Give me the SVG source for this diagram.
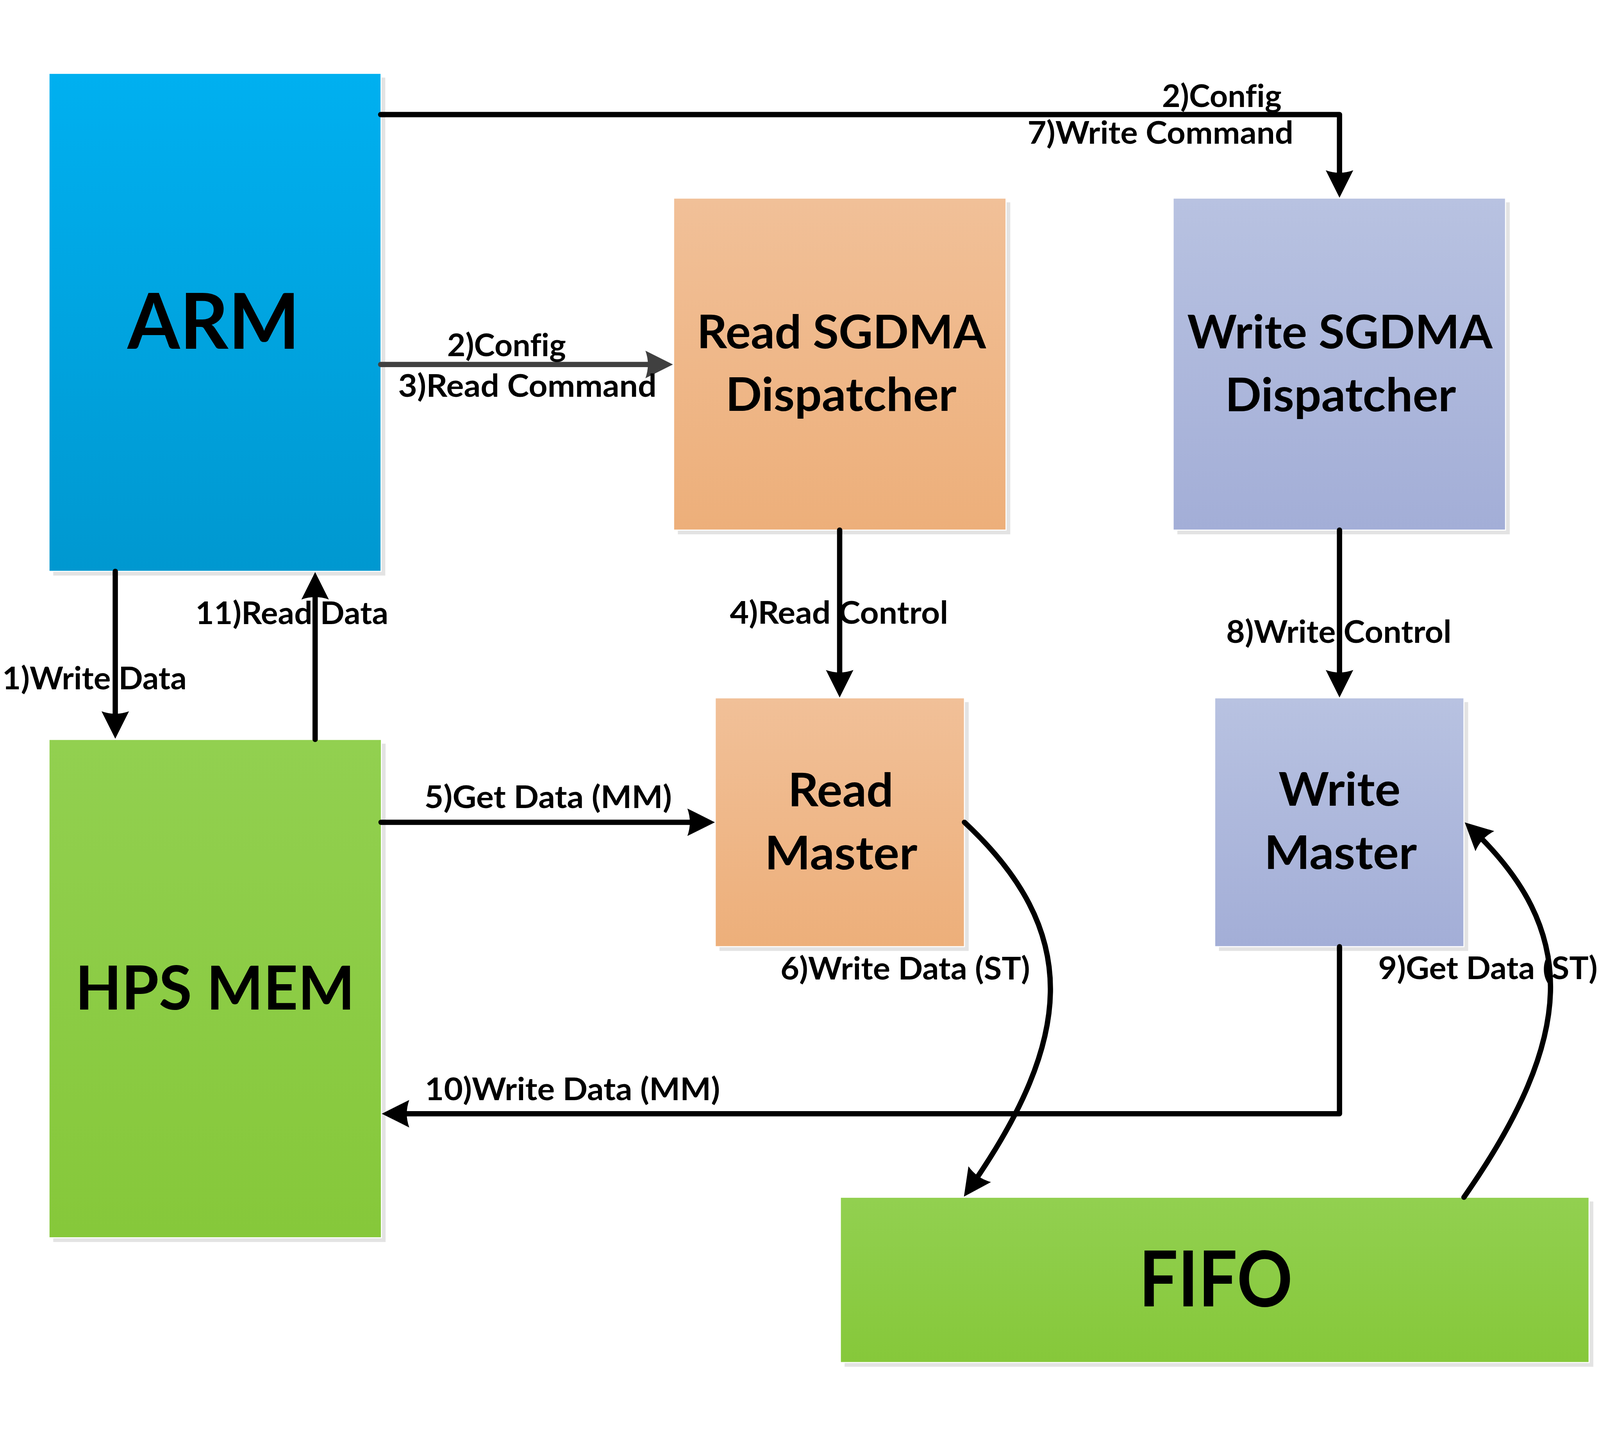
<svg xmlns="http://www.w3.org/2000/svg" width="4539" height="3682" viewBox="0 0 4539 3682">
<style>
svg{width:100vw;height:100vh;display:block}
.shadow{fill:#e3e3e3}
.box{stroke:#ffffff;stroke-width:3}
text{font-variant-ligatures:none}
.title{font-family:Lato,"Liberation Sans",sans-serif;font-weight:bold;fill:#000;text-anchor:middle}
.lbl{font-family:Lato,"Liberation Sans",sans-serif;font-weight:bold;font-size:88px;fill:#000;text-anchor:middle}
.conn{fill:none;stroke:#000;stroke-width:15;stroke-linecap:round;stroke-linejoin:round}
.gray{stroke:#404040}
</style>
<defs>
<linearGradient id="gBlue" x1="0" y1="0" x2="0" y2="1"><stop offset="0" stop-color="#00b0f0"/><stop offset="1" stop-color="#0098d0"/></linearGradient>
<linearGradient id="gOrange" x1="0" y1="0" x2="0" y2="1"><stop offset="0" stop-color="#f1c098"/><stop offset="1" stop-color="#edaf7a"/></linearGradient>
<linearGradient id="gLav" x1="0" y1="0" x2="0" y2="1"><stop offset="0" stop-color="#b8c2e1"/><stop offset="1" stop-color="#a3aed7"/></linearGradient>
<linearGradient id="gGreen" x1="0" y1="0" x2="0" y2="1"><stop offset="0" stop-color="#92d050"/><stop offset="1" stop-color="#86c83a"/></linearGradient>
<marker id="ah" viewBox="-100 -50 120 100" refX="-20" refY="0" markerWidth="120" markerHeight="100" markerUnits="userSpaceOnUse" orient="auto" overflow="visible">
<path d="M0,0 L-78,-39 Q-64,0 -78,39 Z" fill="#000"/>
</marker>
<marker id="ahg" viewBox="-100 -50 120 100" refX="-20" refY="0" markerWidth="120" markerHeight="100" markerUnits="userSpaceOnUse" orient="auto" overflow="visible">
<path d="M0,0 L-78,-39 Q-64,0 -78,39 Z" fill="#404040"/>
</marker>
</defs>
<rect width="4539" height="3682" fill="#ffffff"/>

<g id="arm">
<rect class="shadow" x="151" y="21" width="942" height="1413"/>
<rect class="box" x="139" y="9" width="942" height="1413" fill="url(#gBlue)"/>
<text class="title" x="606" y="790" font-size="218" textLength="489" lengthAdjust="spacingAndGlyphs">ARM</text>
</g>

<g id="read-sgdma">
<rect class="shadow" x="1923" y="375" width="943" height="942"/>
<rect class="box" x="1911" y="363" width="943" height="942" fill="url(#gOrange)"/>
<text class="title" x="2387" y="789" font-size="131" textLength="820" lengthAdjust="spacingAndGlyphs">Read SGDMA</text>
<text class="title" x="2386" y="967" font-size="131" textLength="655" lengthAdjust="spacingAndGlyphs">Dispatcher</text>
</g>

<g id="write-sgdma">
<rect class="shadow" x="3340" y="375" width="943" height="942"/>
<rect class="box" x="3328" y="363" width="943" height="942" fill="url(#gLav)"/>
<text class="title" x="3801" y="789" font-size="131" textLength="866" lengthAdjust="spacingAndGlyphs">Write SGDMA</text>
<text class="title" x="3803" y="968" font-size="131" textLength="655" lengthAdjust="spacingAndGlyphs">Dispatcher</text>
</g>

<g id="read-master">
<rect class="shadow" x="2041" y="1793" width="707" height="706"/>
<rect class="box" x="2029" y="1781" width="707" height="706" fill="url(#gOrange)"/>
<text class="title" x="2385" y="2089" font-size="131" textLength="299" lengthAdjust="spacingAndGlyphs">Read</text>
<text class="title" x="2386" y="2268" font-size="131" textLength="433" lengthAdjust="spacingAndGlyphs">Master</text>
</g>

<g id="write-master">
<rect class="shadow" x="3458" y="1793" width="707" height="706"/>
<rect class="box" x="3446" y="1781" width="707" height="706" fill="url(#gLav)"/>
<text class="title" x="3800" y="2087" font-size="131" textLength="346" lengthAdjust="spacingAndGlyphs">Write</text>
<text class="title" x="3803" y="2266" font-size="131" textLength="433" lengthAdjust="spacingAndGlyphs">Master</text>
</g>

<g id="hps-mem">
<rect class="shadow" x="151" y="1911" width="943" height="1414"/>
<rect class="box" x="139" y="1899" width="943" height="1414" fill="url(#gGreen)"/>
<text class="title" x="610" y="2666" font-size="172" textLength="793" lengthAdjust="spacingAndGlyphs">HPS MEM</text>
</g>

<g id="fifo">
<rect class="shadow" x="2396" y="3210" width="2124" height="469"/>
<rect class="box" x="2384" y="3198" width="2124" height="469" fill="url(#gGreen)"/>
<text class="title" x="3449" y="3508" font-size="218" textLength="436" lengthAdjust="spacingAndGlyphs">FIFO</text>
</g>

<g id="connectors">
<path class="conn" d="M1080,126 H3800 V342" marker-end="url(#ah)"/>
<path class="conn gray" d="M1080,835 H1889" marker-end="url(#ahg)"/>
<path class="conn" d="M327,1422 V1877" marker-end="url(#ah)"/>
<path class="conn" d="M894,1899 V1444" marker-end="url(#ah)"/>
<path class="conn" d="M2382,1305 V1760" marker-end="url(#ah)"/>
<path class="conn" d="M3800,1305 V1760" marker-end="url(#ah)"/>
<path class="conn" d="M1081,2134 H2008" marker-end="url(#ah)"/>
<path class="conn" d="M2736,2134 C3065,2441 3054,2741 2746,3180" marker-end="url(#ah)"/>
<path class="conn" d="M3800,2487 V2961 H1103" marker-end="url(#ah)"/>
<path class="conn" d="M4153,3198 C4472,2741 4483,2441 4170,2148" marker-end="url(#ah)"/>
</g>

<g id="labels">
<text class="lbl" x="3466" y="104" textLength="339" lengthAdjust="spacingAndGlyphs">2)Config</text>
<text class="lbl" x="3292" y="209" textLength="754" lengthAdjust="spacingAndGlyphs">7)Write Command</text>
<text class="lbl" x="1437" y="812" textLength="337" lengthAdjust="spacingAndGlyphs">2)Config</text>
<text class="lbl" x="1496" y="927" textLength="733" lengthAdjust="spacingAndGlyphs">3)Read Command</text>
<text class="lbl" x="828" y="1572" textLength="547" lengthAdjust="spacingAndGlyphs">11)Read Data</text>
<text class="lbl" x="268" y="1757" textLength="523" lengthAdjust="spacingAndGlyphs">1)Write Data</text>
<text class="lbl" x="2380" y="1571" textLength="619" lengthAdjust="spacingAndGlyphs">4)Read Control</text>
<text class="lbl" x="3798" y="1625" textLength="639" lengthAdjust="spacingAndGlyphs">8)Write Control</text>
<text class="lbl" x="1555" y="2094" textLength="702" lengthAdjust="spacingAndGlyphs">5)Get Data (MM)</text>
<text class="lbl" x="2568" y="2580" textLength="708" lengthAdjust="spacingAndGlyphs">6)Write Data (ST)</text>
<text class="lbl" x="4221" y="2579" textLength="622" lengthAdjust="spacingAndGlyphs">9)Get Data (ST)</text>
<text class="lbl" x="1624" y="2923" textLength="837" lengthAdjust="spacingAndGlyphs">10)Write Data (MM)</text>
</g>
</svg>
